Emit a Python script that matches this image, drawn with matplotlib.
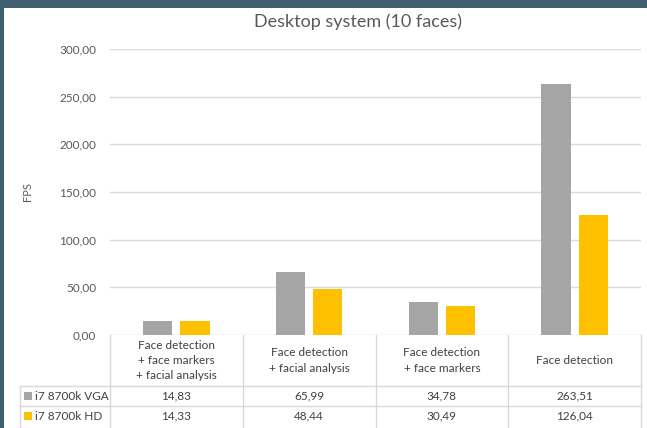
import matplotlib
matplotlib.use("Agg")
import matplotlib.pyplot as plt
from matplotlib.patches import Rectangle
from matplotlib.lines import Line2D
import matplotlib.transforms as mtransforms

categories = ["Face detection\n+ face markers\n+ facial analysis",
              "Face detection\n+ facial analysis",
              "Face detection\n+ face markers",
              "Face detection"]
series_names = ["i7 8700k VGA", "i7 8700k HD"]
vga = [14.83, 65.99, 34.78, 263.51]
hd = [14.33, 48.44, 30.49, 126.04]
yticks = [0, 50, 100, 150, 200, 250, 300]
colors = ["#A5A5A5", "#FFC000"]
title = "Desktop system (10 faces)"

plt.rcParams['font.family'] = ['Lato', 'DejaVu Sans']
W, H = 647, 428
fig = plt.figure(figsize=(W/100, H/100), dpi=100)
fig.patch.set_facecolor("#3F5E70")
fig.patches.append(Rectangle((4/W, 0), 1, 1 - 8/H, transform=fig.transFigure,
                             facecolor="white", edgecolor="none", zorder=-10))

def fy(py):
    return 1 - py/H

L, R, T, B = 110, 641, 49, 335
ax = fig.add_axes([L/W, fy(B), (R-L)/W, (B-T)/H])
ax.set_zorder(2)
ax.set_facecolor("none")
x = list(range(len(categories)))
off, bw = 0.14, 0.22
ax.bar([i - off for i in x], vga, width=bw, color=colors[0], zorder=3)
ax.bar([i + off for i in x], hd, width=bw, color=colors[1], zorder=3)
ax.set_xlim(-0.5, len(categories) - 0.5)
ax.set_ylim(0, 300)
ax.set_yticks(yticks)
ax.set_yticklabels([f"{v:.2f}".replace(".", ",") for v in yticks])
ax.tick_params(axis='y', length=0, pad=10, labelsize=8.5, labelcolor="#595959")
ax.set_xticks([])
for s in ax.spines.values():
    s.set_visible(False)
ax.grid(axis='y', color="#D9D9D9", linewidth=1, zorder=0)
ax.set_ylabel("FPS", fontsize=8, color="#595959", labelpad=19)

fig.text(358/W, fy(22), title, ha='center', va='center', fontsize=13, color="#595959")

# data table
tr = mtransforms.blended_transform_factory(ax.transData, fig.transFigure)
gc = "#D9D9D9"
tc = "#404040"
head_bot, row1_bot, row2_bot = 386, 406, 426
for i in range(len(categories) + 1):
    xb = i - 0.5
    ax.add_line(Line2D([xb, xb], [fy(B), fy(428)], transform=tr, color=gc, lw=1, clip_on=False))
lab_left = 20 / W
for yy in [head_bot, row1_bot]:
    fig.add_artist(Line2D([lab_left, R/W], [fy(yy), fy(yy)], transform=fig.transFigure, color=gc, lw=1))
fig.add_artist(Line2D([lab_left, lab_left], [fy(head_bot), fy(428)], transform=fig.transFigure, color=gc, lw=1))
for i, c in enumerate(categories):
    ax.text(i, fy((B + head_bot)/2), c, transform=tr, ha='center', va='center',
            fontsize=8.5, color=tc, linespacing=1.45)
for r, (name, vals) in enumerate([(series_names[0], vga), (series_names[1], hd)]):
    yc = fy([396, 416][r])
    fig.patches.append(Rectangle((24/W, yc - 4/H), 8/W, 8/H, transform=fig.transFigure,
                                 facecolor=colors[r], edgecolor="none"))
    fig.text(35/W, yc, name, ha='left', va='center', fontsize=8.5, color=tc)
    for i, v in enumerate(vals):
        ax.text(i, yc, f"{v:.2f}".replace(".", ","), transform=tr, ha='center', va='center',
                fontsize=8.5, color=tc)

fig.savefig("out.png", dpi=100)
